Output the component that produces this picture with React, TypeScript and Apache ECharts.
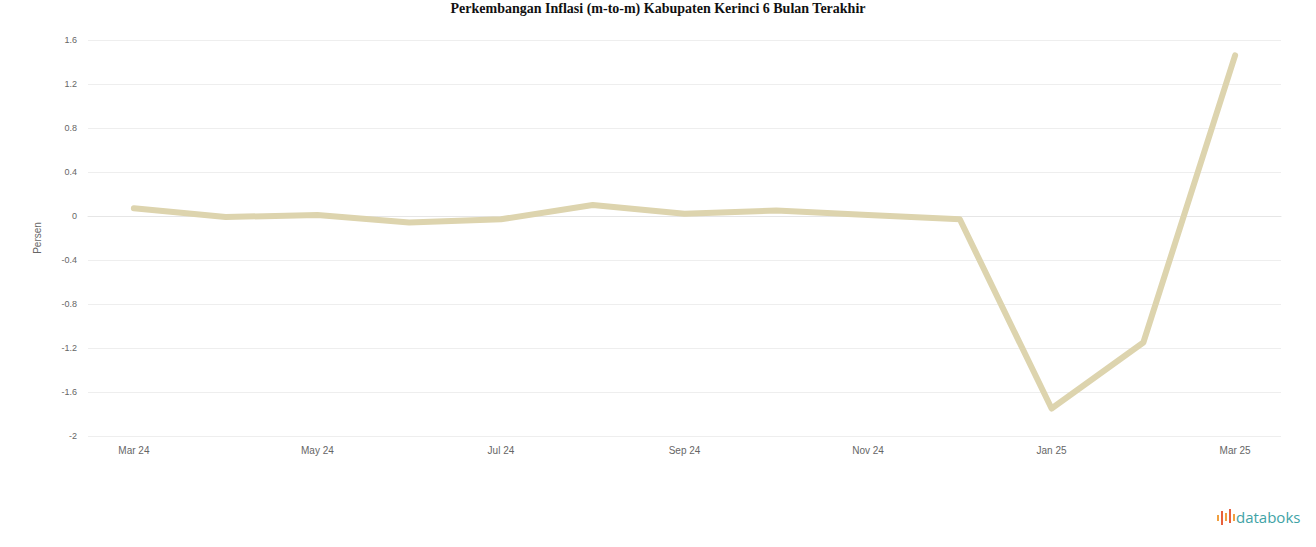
import React, { useEffect, useRef } from "react";
import * as echarts from "echarts";

const months = [
  "Mar 24", "Apr 24", "May 24", "Jun 24", "Jul 24", "Aug 24", "Sep 24",
  "Oct 24", "Nov 24", "Dec 24", "Jan 25", "Feb 25", "Mar 25",
];
const inflasi = [0.07, -0.01, 0.01, -0.06, -0.03, 0.1, 0.02, 0.05, 0.01, -0.03, -1.75, -1.15, 1.46];
const yMin = -2;
const yMax = 1.6;
const yStep = 0.4;

const title = "Perkembangan Inflasi (m-to-m) Kabupaten Kerinci 6 Bulan Terakhir";

export default function App() {
  const ref = useRef<HTMLDivElement>(null);
  useEffect(() => {
    if (!ref.current) return;
    const chart = echarts.init(ref.current, null, { renderer: "svg" });
    chart.setOption({
      animation: false,
      backgroundColor: "#ffffff",
      title: {
        text: title,
        left: "center",
        top: 1,
        padding: 0,
        textStyle: {
          fontFamily: "'Liberation Serif', 'Times New Roman', serif",
          fontWeight: "bold",
          fontSize: 14,
          color: "#111111",
        },
      },
      grid: { left: 88, right: 35, top: 40, bottom: 111 },
      xAxis: {
        type: "category",
        data: months,
        boundaryGap: true,
        axisLine: { show: true, lineStyle: { color: "#e6e6e6" } },
        axisTick: { show: false },
        axisLabel: {
          interval: 1,
          color: "#666666",
          fontSize: 10,
          margin: 9,
          fontFamily: "'Liberation Sans', Arial, sans-serif",
        },
      },
      yAxis: {
        type: "value",
        min: yMin,
        max: yMax,
        interval: yStep,
        name: "Persen",
        nameLocation: "middle",
        nameGap: 46,
        nameTextStyle: { color: "#666666", fontSize: 10, fontFamily: "'Liberation Sans', Arial, sans-serif" },
        axisLine: { show: false },
        axisTick: { show: false },
        axisLabel: {
          color: "#666666",
          fontSize: 9,
          margin: 11,
          fontFamily: "'Liberation Sans', Arial, sans-serif",
          formatter: (v: number) => String(Math.round(v * 10) / 10),
        },
        splitLine: { lineStyle: { color: "#eeeeee" } },
      },
      series: [
        {
          type: "line",
          data: inflasi,
          symbol: "none",
          lineStyle: { color: "#ddd4ae", width: 6, cap: "round", join: "round" },
        },
      ],
      graphic: [
        { type: "rect", shape: { x: 1217, y: 515, width: 2, height: 6 }, style: { fill: "#f0a040" } },
        { type: "rect", shape: { x: 1221, y: 511, width: 2, height: 14 }, style: { fill: "#e8603c" } },
        { type: "rect", shape: { x: 1225, y: 513, width: 2, height: 8 }, style: { fill: "#f0a040" } },
        { type: "rect", shape: { x: 1229, y: 509, width: 2, height: 14 }, style: { fill: "#e8603c" } },
        { type: "rect", shape: { x: 1233, y: 514, width: 2, height: 7 }, style: { fill: "#f0a040" } },
        {
          type: "text",
          x: 1236,
          y: 509,
          style: {
            text: "databoks",
            fill: "#3fa3a6",
            fontSize: 15,
            fontFamily: "'Open Sans', 'Noto Sans', sans-serif",
            fontWeight: "normal",
          },
        },
      ],
    });
    return () => chart.dispose();
  }, []);
  return (
    <div
      ref={ref}
      style={{ position: "fixed", left: 0, top: 0, width: 1316, height: 547, background: "#fff" }}
    />
  );
}
